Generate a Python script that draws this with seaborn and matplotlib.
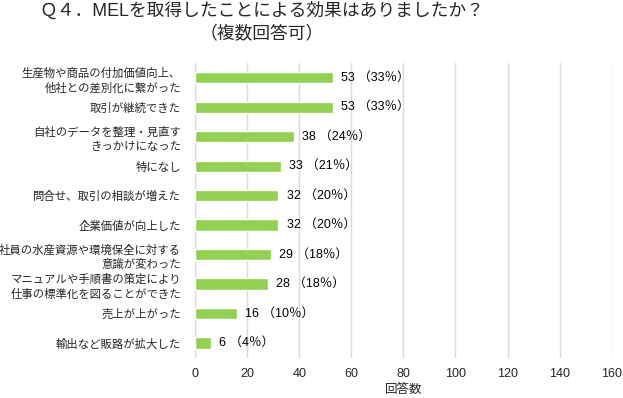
import matplotlib
matplotlib.use("Agg")
import matplotlib.pyplot as plt
import seaborn as sns
import pandas as pd

# Q4 data (counts and share of respondents)
labels = [
    "生産物や商品の付加価値向上、\n他社との差別化に繋がった",
    "取引が継続できた",
    "自社のデータを整理・見直す\nきっかけになった",
    "特になし",
    "問合せ、取引の相談が増えた",
    "企業価値が向上した",
    "社員の水産資源や環境保全に対する\n意識が変わった",
    "マニュアルや手順書の策定により\n仕事の標準化を図ることができた",
    "売上が上がった",
    "輸出など販路が拡大した",
]
counts = [53, 53, 38, 33, 32, 32, 29, 28, 16, 6]
percents = [33, 33, 24, 21, 20, 20, 18, 18, 10, 4]
xticks = [0, 20, 40, 60, 80, 100, 120, 140, 160]

df = pd.DataFrame({"label": labels, "count": counts, "pct": percents})

sns.set_theme(style="white")
plt.rcParams["font.family"] = ["Liberation Sans", "Noto Sans CJK JP", "DejaVu Sans"]

fig = plt.figure(figsize=(6.23, 3.98), dpi=100)
ax = fig.add_axes([0.313, 0.101, 0.669, 0.741])

sns.barplot(data=df, x="count", y="label", color="#92D050", saturation=1,
            width=0.38, ax=ax, zorder=3)

for i, (c, p) in enumerate(zip(counts, percents)):
    ax.text(c + 3.2, i, f"{c} （{p}％）", va="center", ha="left",
            fontsize=9, color="#000000", zorder=4)

ax.set_xlim(0, 160)
ax.set_xticks(xticks)
ax.set_xticklabels([str(t) for t in xticks], fontsize=9)
ax.tick_params(axis="y", labelsize=8.2, length=0, pad=10)
ax.tick_params(axis="x", length=0, pad=7)
for t in ax.get_yticklabels():
    t.set_linespacing(1.4)
ax.xaxis.grid(True, color="#d9d9d9", linewidth=1)
ax.set_axisbelow(True)
for s in ax.spines.values():
    s.set_visible(False)
ax.axvline(0, color="#d9d9d9", linewidth=1, zorder=1)
ax.set_ylabel("")
ax.set_xlabel("回答数", fontsize=9, labelpad=3)

fig.suptitle("Ｑ４．MELを取得したことによる効果はありましたか？\n（複数回答可）",
             fontsize=12.8, y=0.995, x=0.42, linespacing=1.45)

fig.savefig("out.png", dpi=100, facecolor="white")
